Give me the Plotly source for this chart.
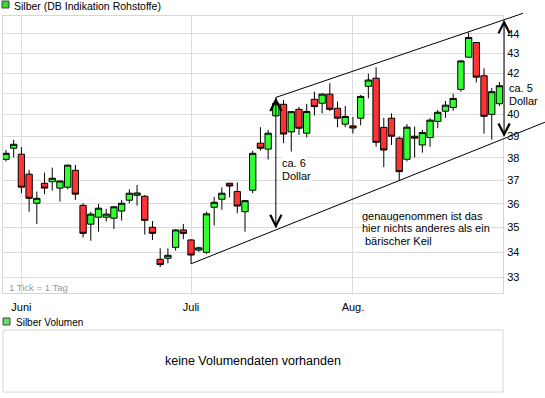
import math
import plotly.graph_objects as go

# ---------------- data ----------------
day_index = list(range(65))
opens = [37.94, 38.44, 38.17, 37.28, 36.02, 36.88, 36.95, 36.67, 36.71, 37.45,
         35.93, 35.14, 35.43, 35.43, 35.39, 35.69, 36.15, 36.36, 36.32, 35.01,
         33.71, 33.75, 34.19, 34.90, 34.49, 34.08, 33.99, 35.85, 36.19, 36.88,
         36.52, 35.66, 36.58, 38.67, 38.40, 39.94, 40.49, 39.19, 40.25, 39.13,
         40.73, 40.54, 40.98, 40.30, 39.55, 39.47, 39.83, 41.36, 41.76, 39.40,
         39.83, 38.90, 37.94, 38.99, 38.59, 38.93, 39.68, 40.16, 40.34, 41.21,
         42.81, 43.56, 41.88, 40.01, 40.52]
highs = [38.36, 38.82, 38.49, 37.47, 36.52, 37.35, 37.57, 37.00, 37.70, 37.69,
         36.02, 35.66, 35.99, 35.78, 35.89, 36.16, 36.62, 36.81, 36.36, 35.27,
         34.15, 34.15, 34.93, 35.15, 34.52, 34.22, 35.66, 36.29, 36.70, 36.90,
         36.92, 36.15, 38.32, 39.41, 39.28, 40.82, 40.70, 40.16, 40.36, 40.51,
         41.10, 41.02, 41.51, 40.62, 40.41, 39.89, 40.94, 41.98, 42.30, 39.85,
         40.06, 38.97, 39.55, 39.44, 39.28, 39.83, 40.22, 40.65, 41.00, 42.67,
         44.08, 43.58, 42.25, 41.28, 41.57]
lows = [37.84, 38.03, 36.45, 35.66, 35.15, 36.41, 36.56, 36.09, 36.62, 36.16,
        34.59, 34.46, 34.83, 35.25, 34.94, 35.29, 36.02, 35.92, 34.71, 34.49,
        33.40, 33.55, 34.06, 34.52, 33.53, 34.01, 33.92, 35.08, 35.74, 36.27,
        35.60, 34.83, 36.45, 38.33, 37.93, 39.92, 38.67, 38.29, 39.05, 38.94,
        39.96, 40.06, 40.17, 39.41, 39.41, 39.12, 39.50, 40.78, 38.51, 37.59,
        38.59, 36.98, 37.85, 38.02, 38.24, 38.51, 39.36, 39.85, 40.18, 41.10,
        42.79, 41.55, 39.11, 38.83, 40.41]
closes = [38.21, 38.62, 36.71, 36.23, 36.23, 36.67, 37.10, 36.98, 37.68, 36.41,
          34.76, 35.56, 35.81, 35.56, 35.87, 36.02, 36.45, 36.46, 35.30, 34.76,
          33.50, 33.87, 34.90, 34.76, 33.88, 34.17, 35.57, 36.06, 36.45, 36.76,
          35.90, 36.13, 38.21, 38.44, 39.13, 40.54, 39.09, 40.14, 39.36, 40.15,
          40.38, 40.98, 40.25, 39.83, 39.91, 39.37, 40.87, 41.67, 38.71, 38.36,
          38.99, 37.39, 39.41, 38.90, 39.16, 39.74, 40.11, 40.45, 40.77, 42.62,
          43.82, 41.81, 39.92, 41.10, 41.39]

month_tick_index = [2, 24, 45]
month_tick_text = ["Juni", "Juli", "Aug."]
price_ticks = list(range(33, 45))
# the "41" label is hidden behind the "ca. 5 Dollar" note in the reference
price_tick_text = ["" if v == 41 else str(v) for v in price_ticks]

# hand-drawn channel (index, price)
lower_line_idx = [24, 69.9]
lower_line_price = [33.53, 39.64]
upper_line_idx = [35, 67.06]
upper_line_price = [40.82, 45.09]
arrow_idx = [35, 64.6]

# ---------------- geometry ----------------
X_RANGE = [-0.386, 64.46]
P_LO, P_HI = 32.393, 44.946
Y_RANGE = [math.log10(P_LO), math.log10(P_HI)]
FIG_W, FIG_H = 545, 398
ML, MR, MT, MB = 3, 42, 16, 105
W_PX = FIG_W - ML - MR
H_PX = FIG_H - MT - MB


def xpaper(i):
    return (i - X_RANGE[0]) / (X_RANGE[1] - X_RANGE[0])


def ypaper(p):
    return (math.log10(p) - Y_RANGE[0]) / (Y_RANGE[1] - Y_RANGE[0])


def px(xp, yp):
    return (xp - ML) / W_PX, 1 - (yp - MT) / H_PX


def line_at(idxs, prices, i):
    t = (i - idxs[0]) / (idxs[1] - idxs[0])
    return math.exp(math.log(prices[0]) + t * (math.log(prices[1]) - math.log(prices[0])))


fig = go.Figure()
fig.add_trace(go.Candlestick(
    x=day_index, open=opens, high=highs, low=lows, close=closes,
    increasing=dict(line=dict(color="black", width=1), fillcolor="#33ff33"),
    decreasing=dict(line=dict(color="black", width=1), fillcolor="#ff3333"),
    whiskerwidth=0, hoverinfo="skip", showlegend=False,
))

shapes = []
for idxs, prices in [(lower_line_idx, lower_line_price), (upper_line_idx, upper_line_price)]:
    shapes.append(dict(type="line", xref="paper", yref="paper",
                       x0=xpaper(idxs[0]), y0=ypaper(prices[0]),
                       x1=xpaper(idxs[1]), y1=ypaper(prices[1]),
                       line=dict(color="black", width=1)))

# volume panel box
vx0, vy0 = px(3, 330)
vx1, vy1 = px(503, 392)
shapes.append(dict(type="rect", xref="paper", yref="paper", x0=vx0, x1=vx1, y0=vy1, y1=vy0,
                   line=dict(color="#d6d6d6", width=1), fillcolor="white"))
# legend squares
for (sx, sy, col) in [(2, 1, "#33dd33"), (3, 318, "#66dd66")]:
    a0, b0 = px(sx, sy)
    a1, b1 = px(sx + 7, sy + 7)
    shapes.append(dict(type="rect", xref="paper", yref="paper", x0=a0, x1=a1, y0=b1, y1=b0,
                       line=dict(color="#444444", width=1), fillcolor=col))

annotations = []
# double headed arrows
for ai in arrow_idx:
    p_top = line_at(upper_line_idx, upper_line_price, ai)
    p_bot = line_at(lower_line_idx, lower_line_price, ai)
    hy = ypaper(p_top)
    ty = ypaper(p_bot)
    annotations.append(dict(xref="paper", yref="paper", x=xpaper(ai), y=hy,
                            axref="pixel", ayref="pixel", ax=0, ay=(hy - ty) * H_PX,
                            text="", showarrow=True, arrowhead=5, startarrowhead=5,
                            arrowside="end+start", arrowsize=2.2, startarrowsize=2.2,
                            arrowwidth=1, arrowcolor="black", standoff=0, startstandoff=0))

FONT = "Liberation Sans, Arial, sans-serif"


def text_at(t, xp, yp, size=11, color="black", bg=None, xanchor="left"):
    a, b = px(xp, yp)
    d = dict(xref="paper", yref="paper", x=a, y=b, text=t, showarrow=False,
             xanchor=xanchor, yanchor="middle", font=dict(family=FONT, size=size, color=color))
    if bg:
        d["bgcolor"] = bg
        d["borderpad"] = 0
    annotations.append(d)


text_at("Silber (DB Indikation Rohstoffe)", 12, 6, size=10.5)
text_at("1 Tick = 1 Tag", 7, 287.5, size=9.5, color="#9a9a9a")
text_at("ca. 6", 281, 163.3, bg="white")
text_at("Dollar", 281, 176, bg="white")
text_at("ca. 5", 508, 88, bg="white")
text_at("Dollar", 508, 100.7, bg="white")
text_at("genaugenommen ist das", 361, 215.7, bg="white")
text_at("hier nichts anderes als ein", 361, 228.3, bg="white")
text_at("bärischer Keil", 364, 241, bg="white")
text_at("Silber Volumen", 13.5, 322, size=10)
text_at("keine Volumendaten vorhanden", 253, 361.4, size=12.5, xanchor="center")

fig.update_layout(
    width=FIG_W, height=FIG_H,
    margin=dict(l=ML, r=MR, t=MT, b=MB, pad=0),
    paper_bgcolor="white", plot_bgcolor="white",
    showlegend=False, boxgap=0.18, boxgroupgap=0,
    shapes=shapes, annotations=annotations,
    font=dict(family=FONT, size=11, color="black"),
    xaxis=dict(range=X_RANGE, tickmode="array", tickvals=month_tick_index, ticktext=month_tick_text,
               showgrid=True, gridcolor="#dcdcdc", gridwidth=1, showline=True, linecolor="#d6d6d6",
               mirror=True, ticks="", zeroline=False, rangeslider=dict(visible=False),
               tickfont=dict(size=11, color="black"), fixedrange=True, ticklabelstandoff=4),
    yaxis=dict(type="log", range=Y_RANGE, side="right", tickmode="array", tickvals=price_ticks,
               ticktext=price_tick_text, showgrid=True, gridcolor="#dcdcdc",
               gridwidth=1, showline=True, linecolor="#d6d6d6", mirror=True, ticks="",
               zeroline=False, tickfont=dict(size=11, color="black"), fixedrange=True,
               ticklabelstandoff=1),
)

fig.write_html("out.html", config={"displayModeBar": False},
               post_script="document.body.style.margin='0px';")
